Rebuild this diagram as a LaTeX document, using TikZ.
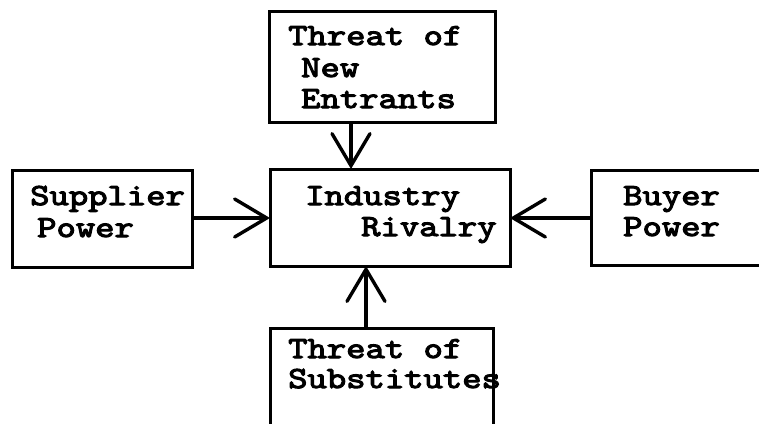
\documentclass[tikz,border=0pt]{standalone}
\usepackage{fontspec}
\newfontfamily\courfont{lmmono10-regular.otf}[FakeStretch=1.2,FakeBold=3.5]
\usetikzlibrary{arrows.meta}
\begin{document}
\begin{tikzpicture}[x=1pt,y=-1pt,
  box/.style={draw, line width=3pt, rectangle, inner sep=0pt, outer sep=0pt},
  lbl/.style={anchor=base west, inner sep=0pt, font=\courfont\fontsize{30.7}{30.7}\selectfont},
  arr/.style={line width=3.4pt, -{Straight Barb[length=32pt,width=38pt,line cap=round]}}]
\useasboundingbox (0,0) rectangle (759,423);
\clip (0,0) rectangle (759,423);
\fill[white] (0,0) rectangle (759,423);
% boxes
\node[box, minimum width=226pt, minimum height=111pt] (top) at (382,66.5) {};
\node[box, minimum width=240pt, minimum height=97pt] (mid) at (390,217.5) {};
\node[box, minimum width=180pt, minimum height=97pt] (sup) at (102,218.5) {};
\node[box, minimum width=200pt, minimum height=95pt] (buy) at (691,217.5) {};
\node[box, minimum width=223pt, minimum height=122pt] (sub) at (381.5,389) {};
% texts
\node[lbl] (t1) at (288,45) {Threat of};
\node[lbl] (t2) at (301,77) {New};
\node[lbl] (t3) at (301,108) {Entrants};
\node[lbl] (m1) at (305,205) {Industry};
\node[lbl] (m2) at (361,236) {Rivalry};
\node[lbl] (s1) at (30,205) {Supplier};
\node[lbl] (s2) at (37,237) {Power};
\node[lbl] (b1) at (623,205) {Buyer};
\node[lbl] (b2) at (623,236) {Power};
\node[lbl] (u1) at (288,358) {Threat of};
\node[lbl] (u2) at (288,388) {Substitutes};
% arrows
\coordinate (ta) at (351,0);
\coordinate (ua) at (366,0);
\coordinate (ya) at (0,218);
\draw[arr] (top.south -| ta) -- (mid.north -| ta);
\draw[arr] (sub.north -| ua) -- (mid.south -| ua);
\draw[arr] (sup.east |- ya) -- (mid.west |- ya);
\draw[arr] (buy.west |- ya) -- (mid.east |- ya);
\end{tikzpicture}
\end{document}
